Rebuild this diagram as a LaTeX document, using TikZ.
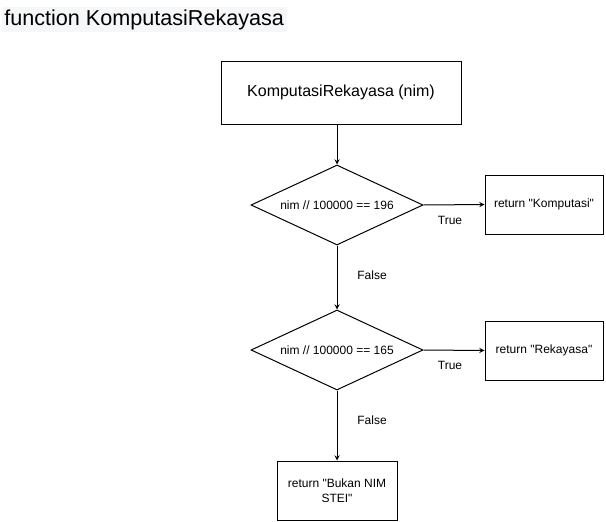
\documentclass[tikz,border=0pt]{standalone}
\usepackage{fontspec}
\setmainfont{Liberation Sans}[Ligatures=TeXOff]
\usepackage{xcolor}
\usetikzlibrary{shapes.geometric, arrows}
\definecolor{latarjudul}{HTML}{F6F7F9}
\tikzstyle{arrow} = [line width=0.75pt,->,>=stealth]
\tikzstyle{proses} = [rectangle, draw, line width=0.75pt, align=center, inner sep=2pt, font=\fontsize{9}{11}\selectfont]
\tikzstyle{keputusan} = [diamond, draw, line width=0.75pt, aspect=2.15, inner sep=0pt, minimum width=129pt, minimum height=60pt, font=\fontsize{9}{11}\selectfont]
\tikzstyle{ket} = [font=\fontsize{9}{11}\selectfont, inner sep=1pt]

\begin{document}
\begin{tikzpicture}[x=0.75pt,y=-0.75pt]
	\useasboundingbox (0,0) rectangle (606,521);
	% judul fungsi
	\fill[latarjudul] (2,7) rectangle (287,32);
	\node[anchor=west, inner sep=0pt, font=\fontsize{16.2}{19}\selectfont] (judul) at (4,19.5) {function KomputasiRekayasa};
	% kotak-kotak
	\node[proses, minimum width=180pt, minimum height=47.25pt, font=\fontsize{12}{14}\selectfont] (mulai) at (341,92.5) {KomputasiRekayasa (nim)};
	\node[keputusan] (cek1) at (337,205) {nim // 100000 == 196};
	\node[keputusan] (cek2) at (337,350) {nim // 100000 == 165};
	\node[proses, minimum width=88.5pt, minimum height=44.25pt] (komputasi) at (544,204.5) {return "Komputasi"};
	\node[proses, minimum width=88.5pt, minimum height=44.25pt] (rekayasa) at (544,350.5) {return "Rekayasa"};
	\node[proses, minimum width=90pt, minimum height=44.25pt] (bukan) at (337,490.5) {return "Bukan NIM\\ STEI"};
	% panah
	\draw[arrow] (cek1.north |- mulai.south) -- (cek1.north);
	\draw[arrow] (cek1.east) -- (komputasi.west);
	\draw[arrow] (cek1.south) -- (cek2.north);
	\draw[arrow] (cek2.east) -- (rekayasa.west);
	\draw[arrow] (cek2.south) -- (bukan.north);
	% label cabang
	\foreach \Nama/\Xc/\Yc/\Texto in
	{benar1/450/220/True, salah1/372/275/False, benar2/450/365/True, salah2/372/420/False}
	{
		\node[ket] (\Nama) at (\Xc,\Yc) {\Texto};
	}
\end{tikzpicture}
\end{document}
